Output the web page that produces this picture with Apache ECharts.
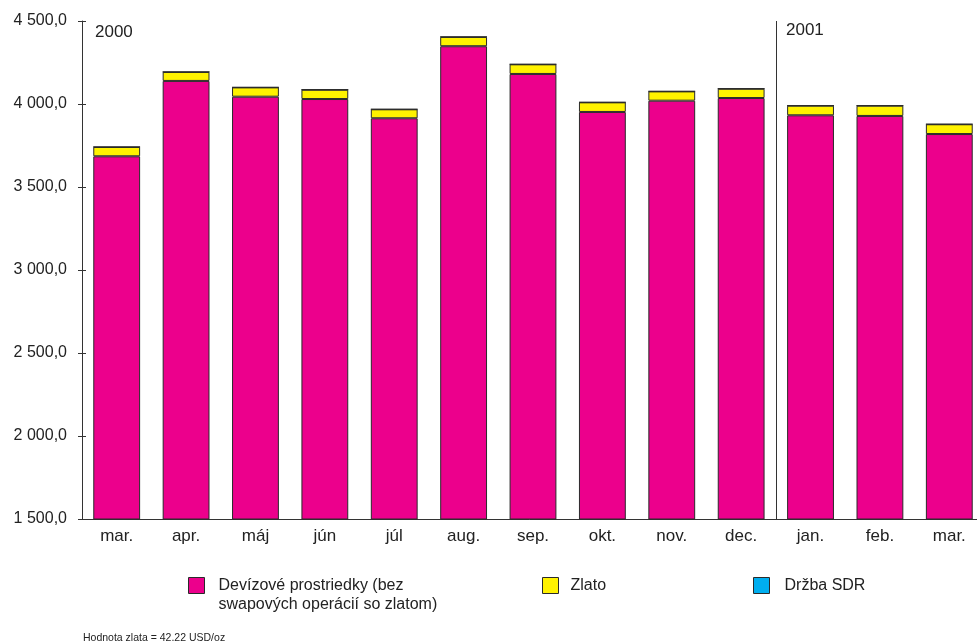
<!DOCTYPE html>
<html>
<head>
<meta charset="utf-8">
<script src="https://cdn.jsdelivr.net/npm/echarts@6/dist/echarts.min.js"></script>
<style>
html,body{margin:0;padding:0;background:#fff;}
#c{width:977px;height:643px;}
</style>
</head>
<body>
<div id="c"></div>
<script>
var categories = ['mar.','apr.','máj','jún','júl','aug.','sep.','okt.','nov.','dec.','jan.','feb.','mar.'];
var devizy = [3685,4139,4044,4030,3914,4348,4181,3952,4020,4036,3932,3928,3819];
var zlato = [56,54,56,56,54,56,58,58,56,56,58,62,59];
var sdr = [0.5,0.5,0.5,0.5,0.5,0.5,0.5,0.5,0.5,0.5,0.5,0.5,0.5];
var yearLabels = ['2000','2001'];
var yearDividerIndex = 10;
var seriesNames = ['Devízové prostriedky (bez\nswapových operácií so zlatom)','Zlato','Držba SDR'];
var note = 'Hodnota zlata = 42.22 USD/oz';

var FONT = '"Liberation Sans", Arial, Helvetica, sans-serif';
var chart = echarts.init(document.getElementById('c'), null, {renderer:'canvas'});

function fmt(v){
  var s = v.toFixed(1).split('.');
  var ip = s[0].replace(/\B(?=(\d{3})+(?!\d))/g, ' ');
  return ip + ',' + s[1];
}

var border = {borderColor:'#2a2a2a', borderWidth:1};
function legendCfg(left, top, name, textPad, lh, formatter){
  var ts = {fontFamily:FONT, fontSize:16, color:'#222', padding:textPad};
  if (lh) ts.lineHeight = lh;
  var cfg = {
    orient:'horizontal', icon:'rect', itemWidth:16, itemHeight:16,
    selectedMode:false, padding:0, left:left, top:top, data:[name],
    itemStyle:{borderColor:'#2a2a2a', borderWidth:1},
    textStyle:ts
  };
  if (formatter) cfg.formatter = formatter;
  return cfg;
}

chart.setOption({
  animation:false,
  backgroundColor:'#fff',
  grid:{left:82, right:-7, top:21, bottom:124, containLabel:false, outerBoundsMode:'none'},
  legend:[
    legendCfg(188, 557, seriesNames[0], [0,0,0,9], 19, function(n){ return '\u00a0\n' + n; }),
    legendCfg(542, 577, seriesNames[1], [0,0,0,7]),
    legendCfg(753, 577, seriesNames[2], [0,0,0,10])
  ],
  xAxis:[{
    type:'category', data:categories, boundaryGap:true,
    axisLine:{show:true, lineStyle:{color:'#333', width:1}},
    axisTick:{show:false},
    axisLabel:{fontFamily:FONT, fontSize:17, color:'#222', margin:9},
    splitLine:{show:false}
  },{
    type:'value', min:0, max:categories.length, show:false
  }],
  yAxis:[{
    type:'value', min:1500, max:4500, interval:500,
    axisLine:{show:true, lineStyle:{color:'#333', width:1}},
    axisTick:{show:true, inside:false, length:4, lineStyle:{color:'#333'}},
    axisLabel:{fontFamily:FONT, fontSize:16, color:'#222', margin:15, formatter:fmt},
    splitLine:{show:false}
  },{
    type:'value', min:1500, max:4500, interval:500, position:'left',
    axisLine:{show:false},
    axisTick:{show:true, inside:true, length:4, lineStyle:{color:'#333'}},
    axisLabel:{show:false},
    splitLine:{show:false}
  }],
  series:[
    {name:seriesNames[0], type:'bar', stack:'a', data:devizy, barWidth:'67.5%',
     itemStyle:Object.assign({color:'#EC008C'}, border)},
    {name:seriesNames[1], type:'bar', stack:'a', data:zlato, barWidth:'67.5%',
     itemStyle:Object.assign({color:'#FFF200'}, border)},
    {name:seriesNames[2], type:'bar', stack:'a', data:sdr, barWidth:'67.5%',
     itemStyle:Object.assign({color:'#00AEEF'}, border)},
    {name:'divider', type:'line', xAxisIndex:1, yAxisIndex:0, data:[], silent:true,
     markLine:{symbol:'none', silent:true, label:{show:false},
       lineStyle:{color:'#333', width:1, type:'solid'},
       data:[{xAxis:yearDividerIndex}]}}
  ],
  graphic:[
    {type:'text', left:95, top:24, style:{text:yearLabels[0], fontFamily:FONT, fontSize:17, fill:'#222'}},
    {type:'text', left:786, top:22, style:{text:yearLabels[1], fontFamily:FONT, fontSize:17, fill:'#222'}},
    {type:'text', left:83, top:633, style:{text:note, fontFamily:FONT, fontSize:10.5, fill:'#222'}}
  ]
});
</script>
</body>
</html>
